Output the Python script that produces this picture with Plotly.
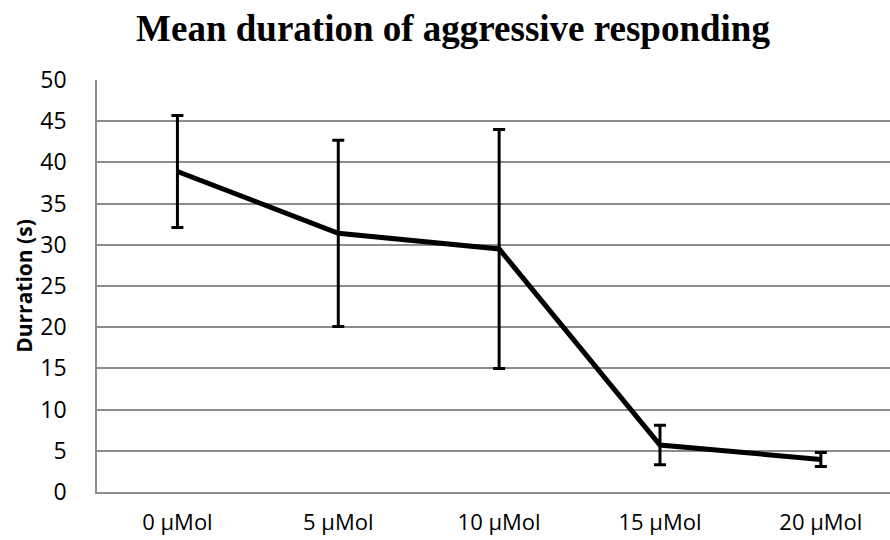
import plotly.graph_objects as go

categories = ["0 µMol", "5 µMol", "10 µMol", "15 µMol", "20 µMol"]
means = [38.9, 31.4, 29.5, 5.7, 3.95]
errors = [6.8, 11.3, 14.5, 2.4, 0.85]
y_ticks = [0, 5, 10, 15, 20, 25, 30, 35, 40, 45, 50]

fig = go.Figure()
fig.add_trace(go.Scatter(
    x=categories, y=means, mode="lines",
    line=dict(color="black", width=5),
    error_y=dict(type="data", array=errors, visible=True,
                 color="black", thickness=3, width=6),
    showlegend=False,
))

fig.update_layout(
    width=890, height=540,
    margin=dict(l=97, r=0, t=80, b=48),
    paper_bgcolor="white", plot_bgcolor="white",
    font=dict(family="Open Sans, sans-serif", color="black", size=23),
    title=dict(text="<b>Mean duration of aggressive responding</b>",
               font=dict(family="Liberation Serif, Times New Roman, serif", size=37, color="black"),
               x=0.509, xanchor="center", y=0.948, yanchor="middle"),
)
fig.update_xaxes(type="category", range=[-0.5, 4.43], showgrid=False, automargin=False,
                 showline=True, linecolor="#8c8c8c", linewidth=1.5,
                 ticks="", tickfont=dict(size=22), ticklabelstandoff=10)
fig.update_yaxes(range=[0, 50], tickvals=y_ticks, showgrid=True, gridcolor="#8c8c8c",
                 gridwidth=1.5, showline=True, linecolor="#8c8c8c", linewidth=1.5,
                 automargin=False,
                 ticks="", ticklen=0, tickfont=dict(size=23), ticklabelstandoff=24,
                 title=dict(text="<b>Durration (s)</b>", font=dict(size=21), standoff=2),
                 zeroline=False)

fig.write_html("out.html")
